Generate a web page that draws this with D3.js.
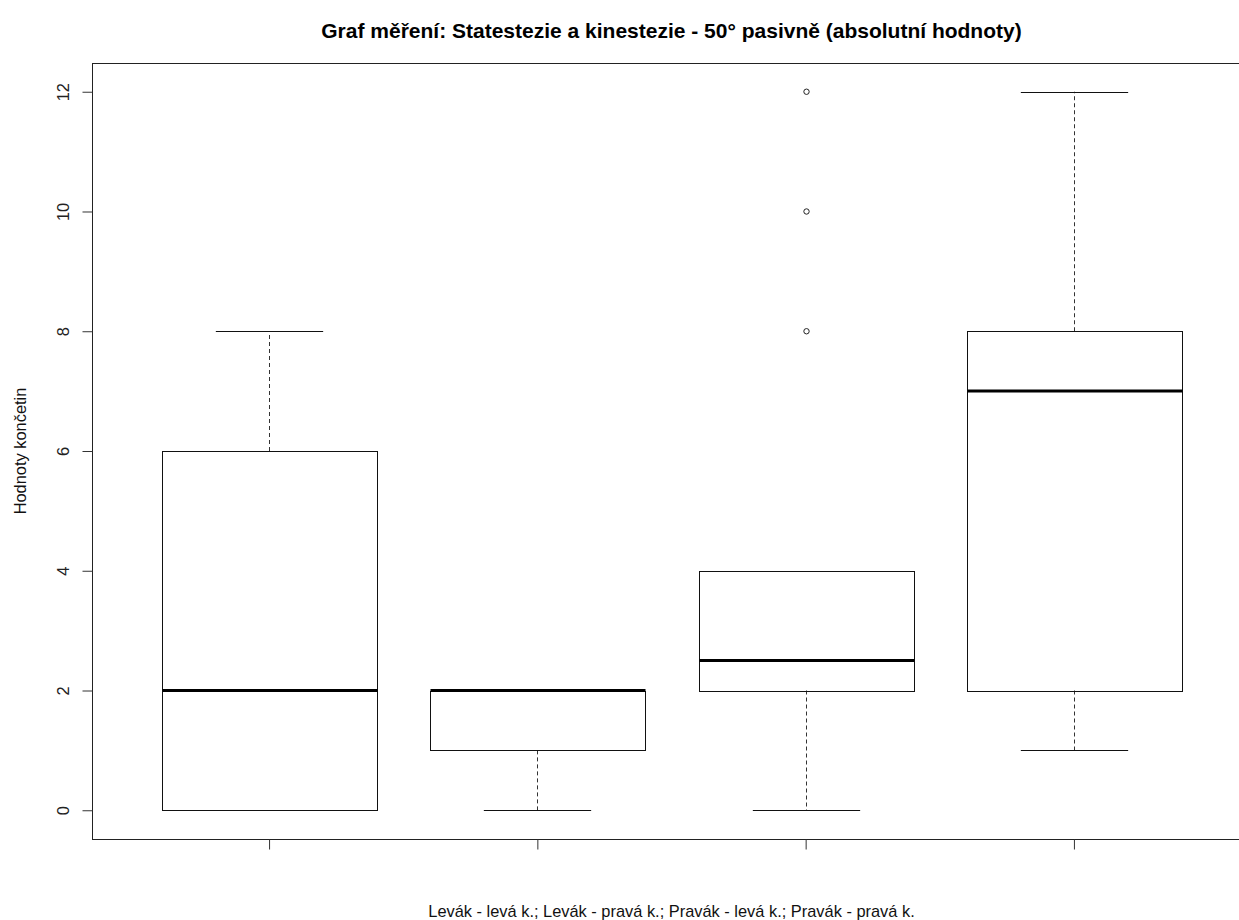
<!DOCTYPE html>
<html>
<head>
<meta charset="utf-8">
<script src="https://cdn.jsdelivr.net/npm/d3@7"></script>
<style>
  html, body { margin: 0; padding: 0; background: #fff; }
  svg { display: block; font-family: "Liberation Sans", Arial, sans-serif; }
</style>
</head>
<body>
<svg id="chart" width="1239" height="920"></svg>
<script>
// Group labels (one box per group)
const groups = ["Levák - levá k.", "Levák - pravá k.", "Pravák - levá k.", "Pravák - pravá k."];
// Five-number summaries per group
const whiskerLow  = [0, 0, 0, 1];
const q1          = [0, 1, 2, 2];
const median      = [2, 2, 2.5, 7];
const q3          = [6, 2, 4, 8];
const whiskerHigh = [8, 2, 4, 12];
// Outlying points per group
const outliers = [[], [], [8, 10, 12], []];
// Y axis ticks
const yTicks = [0, 2, 4, 6, 8, 10, 12];

const title = "Graf měření: Statestezie a kinestezie - 50° pasivně (absolutní hodnoty)";
const xLabel = groups.join("; ");
const yLabel = "Hodnoty končetin";

const svg = d3.select("#chart");
const plot = { left: 92, right: 1251, top: 63, bottom: 839 };

// R-style ranges: 0.5..n+0.5 and data range, each extended by 4%
const xs = d3.scaleLinear().domain([0.34, 4.66]).range([plot.left, plot.right]);
const ys = d3.scaleLinear().domain([-0.48, 12.48]).range([plot.bottom, plot.top]);

const boxHalf = xs(1.4) - xs(1);     // box width 0.8 of spacing
const capHalf = boxHalf / 2;         // staples half the box width

// plot frame
svg.append("rect")
  .attr("x", plot.left + 0.5).attr("y", plot.top + 0.5)
  .attr("width", plot.right - plot.left).attr("height", plot.bottom - plot.top)
  .attr("fill", "none").attr("stroke", "#222").attr("stroke-width", 1);

const g = svg.append("g");
groups.forEach((name, i) => {
  const cx = Math.round(xs(i + 1)) + 0.5;
  const grp = g.append("g");
  // whiskers (dashed)
  if (whiskerHigh[i] > q3[i]) {
    grp.append("line").attr("x1", cx).attr("x2", cx)
      .attr("y1", ys(q3[i])).attr("y2", ys(whiskerHigh[i]))
      .attr("stroke", "#333").attr("stroke-dasharray", "4,3");
  }
  if (whiskerLow[i] < q1[i]) {
    grp.append("line").attr("x1", cx).attr("x2", cx)
      .attr("y1", ys(q1[i])).attr("y2", ys(whiskerLow[i]))
      .attr("stroke", "#333").attr("stroke-dasharray", "4,3");
  }
  // staples
  [whiskerLow[i], whiskerHigh[i]].forEach(v => {
    const yy = Math.round(ys(v)) + 0.5;
    grp.append("line").attr("x1", cx - capHalf).attr("x2", cx + capHalf)
      .attr("y1", yy).attr("y2", yy).attr("stroke", "#111").attr("stroke-width", 1);
  });
  // box
  const yTop = Math.round(ys(q3[i])) + 0.5, yBot = Math.round(ys(q1[i])) + 0.5;
  const bx = Math.round(cx - boxHalf) + 0.5, bw = Math.round(boxHalf * 2);
  grp.append("rect")
    .attr("x", bx).attr("y", yTop)
    .attr("width", bw).attr("height", yBot - yTop)
    .attr("fill", "none").attr("stroke", "#111").attr("stroke-width", 1);
  // median
  grp.append("line")
    .attr("x1", bx).attr("x2", bx + bw)
    .attr("y1", ys(median[i])).attr("y2", ys(median[i]))
    .attr("stroke", "#000").attr("stroke-width", 3);
  // outliers
  grp.selectAll("circle").data(outliers[i]).join("circle")
    .attr("cx", cx).attr("cy", d => ys(d)).attr("r", 2.7)
    .attr("fill", "none").attr("stroke", "#222").attr("stroke-width", 1);
});

// y axis
const yAxis = svg.append("g")
  .attr("transform", `translate(${plot.left + 0.5},0)`)
  .call(d3.axisLeft(ys).tickValues(yTicks).tickSize(10).tickSizeOuter(0).tickFormat(d3.format("d")));
yAxis.select(".domain").remove();
yAxis.selectAll(".tick line").attr("stroke", "#333");
yAxis.selectAll(".tick text")
  .attr("x", null).attr("dy", null)
  .attr("transform", "translate(-24,0) rotate(-90)")
  .attr("text-anchor", "middle")
  .attr("font-size", 16.4).attr("fill", "#222")
  .attr("font-family", "Liberation Sans, Arial, sans-serif");

// x axis: tick marks only
const xAxis = svg.append("g")
  .attr("transform", `translate(0,${plot.bottom + 0.5})`)
  .call(d3.axisBottom(xs).tickValues(d3.range(1, groups.length + 1)).tickSize(10).tickFormat(""));
xAxis.select(".domain").remove();
xAxis.selectAll(".tick line").attr("stroke", "#333");

// titles
const midX = (plot.left + plot.right) / 2;
svg.append("text")
  .attr("x", midX).attr("y", 38)
  .attr("text-anchor", "middle")
  .attr("font-size", 21).attr("font-weight", "bold").attr("fill", "#000")
  .text(title);

svg.append("text")
  .attr("x", midX).attr("y", 917)
  .attr("text-anchor", "middle")
  .attr("font-size", 16.4).attr("fill", "#111")
  .text(xLabel);

svg.append("text")
  .attr("transform", `translate(26,${(plot.top + plot.bottom) / 2}) rotate(-90)`)
  .attr("text-anchor", "middle")
  .attr("font-size", 16.4).attr("fill", "#111")
  .text(yLabel);
</script>
</body>
</html>
